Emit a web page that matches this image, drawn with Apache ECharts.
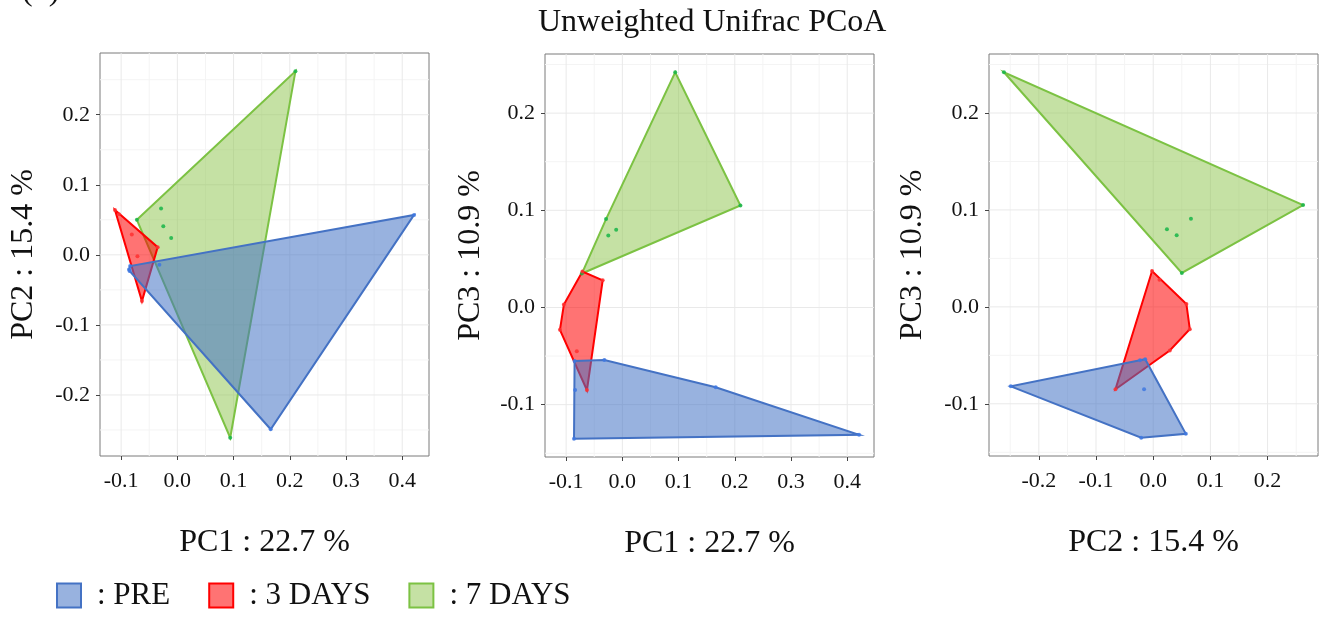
<!DOCTYPE html>
<html>
<head>
<meta charset="utf-8">
<script src="https://cdn.jsdelivr.net/npm/echarts@6/dist/echarts.min.js"></script>
<style>
  html, body { margin: 0; padding: 0; background: #ffffff; }
  #chart { width: 1325px; height: 619px; }
</style>
</head>
<body>
<div id="chart"></div>
<script>
// Sample groups (legend order)
const groups = ['PRE', '3 DAYS', '7 DAYS'];

// PCoA scores per sample, one array per group and axis
const prePC1 = [0.166, 0.421, -0.086, -0.085, -0.032, -0.084];
const prePC2 = [-0.249, 0.057, -0.021, -0.023, -0.014, -0.016];
const prePC3 = [-0.082, -0.131, -0.135, -0.055, -0.054, -0.085];

const day3PC1 = [-0.071, -0.035, -0.104, -0.111, -0.081, -0.063];
const day3PC2 = [-0.002, 0.011, 0.058, 0.064, 0.029, -0.066];
const day3PC3 = [0.037, 0.028, 0.003, -0.023, -0.045, -0.085];

const day7PC1 = [0.210, 0.094, -0.072, -0.029, -0.025, -0.011];
const day7PC2 = [0.262, -0.261, 0.050, 0.066, 0.041, 0.024];
const day7PC3 = [0.105, 0.242, 0.035, 0.091, 0.074, 0.080];

// Axis titles and tick labels
const axisTitles = ['PC1 : 22.7 %', 'PC2 : 15.4 %', 'PC3 : 10.9 %'];
const pc1Ticks = [-0.1, 0.0, 0.1, 0.2, 0.3, 0.4];
const pc2Ticks = [-0.2, -0.1, 0.0, 0.1, 0.2];
const pc3Ticks = [-0.1, 0.0, 0.1, 0.2];
const chartTitle = 'Unweighted Unifrac PCoA';
const panelTag = '(b)';

// ---- assembly ----
const scores = {
  'PRE':    [prePC1, prePC2, prePC3],
  '3 DAYS': [day3PC1, day3PC2, day3PC3],
  '7 DAYS': [day7PC1, day7PC2, day7PC3]
};
const ticksByPC = [pc1Ticks, pc2Ticks, pc3Ticks];

const style = {
  'PRE':    { line: '#4472c4', fill: 'rgba(68,114,196,0.55)', dot: '#3f78e0' },
  '3 DAYS': { line: '#ff0000', fill: 'rgba(255,0,0,0.55)',    dot: '#ff3030' },
  '7 DAYS': { line: '#7cc243', fill: 'rgba(139,195,74,0.5)',  dot: '#16b548' }
};
const drawOrder = ['7 DAYS', '3 DAYS', 'PRE'];

const FONT = 'Liberation Serif, Times New Roman, serif';
const TEXT = '#111111';

// panels: [x PC index, y PC index] and grid boxes
const panels = [
  { x: 0, y: 1, box: { left: 100, top: 53, width: 329, height: 403 }, yGap: 60 },
  { x: 0, y: 2, box: { left: 545, top: 54, width: 329, height: 403 }, yGap: 58 },
  { x: 1, y: 2, box: { left: 989, top: 54, width: 329, height: 402 }, yGap: 60 }
];

// ggplot-like 5% expansion of the pooled data range
function expandedRange(pc) {
  let lo = Infinity, hi = -Infinity;
  groups.forEach(g => scores[g][pc].forEach(v => { lo = Math.min(lo, v); hi = Math.max(hi, v); }));
  const pad = (hi - lo) * 0.05;
  return [lo - pad, hi + pad];
}

// Convex hull (monotone chain) of a list of [x, y]
function hull(pts) {
  const p = pts.slice().sort((a, b) => a[0] - b[0] || a[1] - b[1]);
  const cross = (o, a, b) => (a[0] - o[0]) * (b[1] - o[1]) - (a[1] - o[1]) * (b[0] - o[0]);
  const lower = [], upper = [];
  for (const q of p) {
    while (lower.length >= 2 && cross(lower[lower.length - 2], lower[lower.length - 1], q) <= 0) lower.pop();
    lower.push(q);
  }
  for (let i = p.length - 1; i >= 0; i--) {
    const q = p[i];
    while (upper.length >= 2 && cross(upper[upper.length - 2], upper[upper.length - 1], q) <= 0) upper.pop();
    upper.push(q);
  }
  upper.pop(); lower.pop();
  return lower.concat(upper);
}

const fmt = v => (Math.abs(v) < 1e-9 ? '0.0' : v.toFixed(1));

// major lines at the ticks, minor lines halfway between them
function gridValues(ticks, range) {
  const step = ticks[1] - ticks[0];
  const minor = [];
  for (let v = ticks[0] - step / 2; v <= ticks[ticks.length - 1] + step / 2 + 1e-9; v += step) {
    if (v > range[0] && v < range[1]) minor.push(+v.toFixed(4));
  }
  return { major: ticks.slice(), minor };
}

function axisCfg(kind, idx, pc, nameGap) {
  const range = expandedRange(pc);
  const ticks = ticksByPC[pc];
  return {
    type: 'value',
    gridIndex: idx,
    min: range[0],
    max: range[1],
    name: axisTitles[pc],
    nameLocation: 'middle',
    nameGap: nameGap,
    nameTextStyle: { fontFamily: FONT, fontSize: 32, color: TEXT },
    axisLine: { show: false, onZero: false },
    axisTick: { show: true, customValues: ticks, length: 4, lineStyle: { color: '#444', width: 1 } },
    axisLabel: {
      customValues: ticks,
      formatter: fmt,
      margin: kind === 'x' ? 14 : 10,
      fontFamily: FONT, fontSize: 22, color: TEXT
    },
    splitLine: { show: false },
    minorSplitLine: { show: false }
  };
}

const grids = [], xAxes = [], yAxes = [], series = [];

panels.forEach((pan, i) => {
  grids.push(Object.assign({ show: true, borderColor: '#7a7a7a', borderWidth: 1, backgroundColor: '#ffffff' }, pan.box));
  xAxes.push(axisCfg('x', i, pan.x, 71));
  yAxes.push(axisCfg('y', i, pan.y, pan.yGap));

  // background grid lines, placed through the axis scales
  const xr = expandedRange(pan.x), yr = expandedRange(pan.y);
  const gx = gridValues(ticksByPC[pan.x], xr);
  const gy = gridValues(ticksByPC[pan.y], yr);
  series.push({
    type: 'custom',
    name: 'grid' + i,
    xAxisIndex: i, yAxisIndex: i,
    data: [[xr[0], yr[0]]],
    silent: true,
    z: 1,
    renderItem: (params, api) => {
      const seg = (a, b, color) => {
        const p = api.coord(a), q = api.coord(b);
        return { type: 'line', shape: { x1: p[0], y1: p[1], x2: q[0], y2: q[1] },
                 style: { stroke: color, lineWidth: 1 } };
      };
      const kids = [];
      gx.minor.forEach(v => kids.push(seg([v, yr[0]], [v, yr[1]], '#f4f4f4')));
      gy.minor.forEach(v => kids.push(seg([xr[0], v], [xr[1], v], '#f4f4f4')));
      gx.major.forEach(v => kids.push(seg([v, yr[0]], [v, yr[1]], '#e9e9e9')));
      gy.major.forEach(v => kids.push(seg([xr[0], v], [xr[1], v], '#e9e9e9')));
      return { type: 'group', children: kids };
    }
  });

  // convex hull polygons per group
  drawOrder.forEach(g => {
    const xs = scores[g][pan.x], ys = scores[g][pan.y];
    const h = hull(xs.map((v, k) => [v, ys[k]]));
    series.push({
      type: 'custom',
      name: g,
      xAxisIndex: i, yAxisIndex: i,
      data: h,
      z: 2,
      silent: true,
      itemStyle: { color: style[g].fill, borderColor: style[g].line, borderWidth: 2 },
      renderItem: (params, api) => {
        if (params.dataIndex !== 0) return null;
        return {
          type: 'polygon',
          shape: { points: h.map(p => api.coord(p)) },
          style: { fill: style[g].fill, stroke: style[g].line, lineWidth: 2, lineJoin: 'miter', miterLimit: 10 }
        };
      }
    });
  });

  // sample points
  drawOrder.forEach(g => {
    const xs = scores[g][pan.x], ys = scores[g][pan.y];
    series.push({
      type: 'scatter',
      name: g,
      xAxisIndex: i, yAxisIndex: i,
      data: xs.map((v, k) => [v, ys[k]]),
      symbolSize: 4,
      itemStyle: { color: style[g].dot, opacity: 0.85 },
      silent: true,
      z: 3
    });
  });
});

const chart = echarts.init(document.getElementById('chart'), null, { renderer: 'canvas' });
chart.setOption({
  animation: false,
  backgroundColor: '#ffffff',
  title: {
    text: chartTitle,
    left: 533,
    top: 2,
    textStyle: { fontFamily: FONT, fontSize: 32, fontWeight: 'normal', color: TEXT }
  },
  graphic: [{
    type: 'text',
    left: 22,
    top: -24,
    style: { text: panelTag, font: '32px ' + FONT, fill: TEXT }
  }],
  legend: {
    left: 56,
    top: 580,
    padding: 0,
    itemWidth: 24,
    itemHeight: 24,
    itemGap: 38,
    selectedMode: false,
    textStyle: { fontFamily: FONT, fontSize: 31, color: TEXT, padding: [0, 0, 0, 11] },
    formatter: n => ': ' + n,
    data: groups.map(g => ({
      name: g,
      icon: 'rect',
      itemStyle: { color: style[g].fill, borderColor: style[g].line, borderWidth: 2 }
    }))
  },
  grid: grids,
  xAxis: xAxes,
  yAxis: yAxes,
  series: series
});
</script>
</body>
</html>
